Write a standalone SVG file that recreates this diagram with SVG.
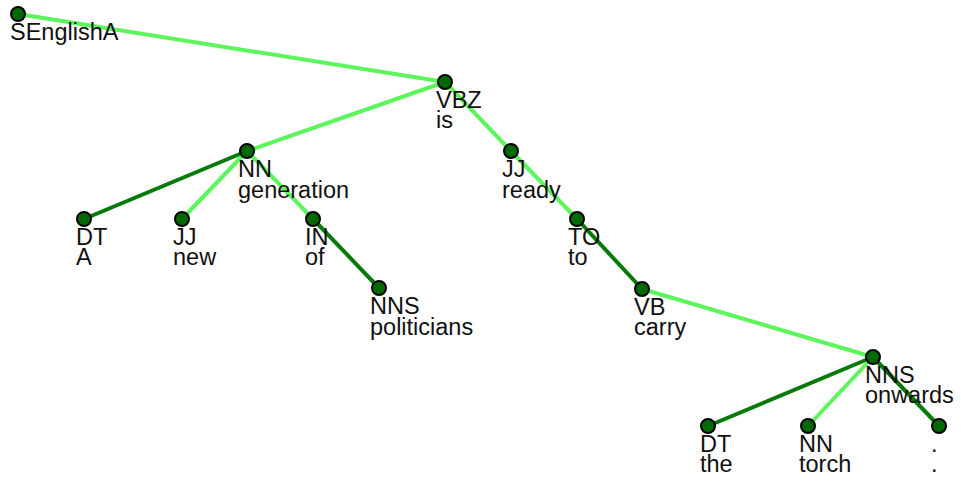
<svg xmlns="http://www.w3.org/2000/svg" width="961" height="484" viewBox="0 0 961 484">
  <style>
    .edge { fill: none; stroke-width: 4; stroke-linecap: butt; }
    .lite { stroke: #5cf55c; }
    .dark { stroke: #087a08; }
    .node circle { fill: #006a00; stroke: #000; stroke-width: 2; }
    .node text { font-family: "Liberation Sans", Arial, sans-serif; font-size: 23.5px; fill: #111; }
  </style>
  <rect width="961" height="484" fill="#fff"/>
  <g id="edges">
    <line class="edge lite" x1="18" y1="14" x2="445" y2="82"/>
    <line class="edge lite" x1="445" y1="82" x2="247" y2="151"/>
    <line class="edge dark" x1="247" y1="151" x2="84" y2="219"/>
    <line class="edge lite" x1="247" y1="151" x2="182" y2="219"/>
    <line class="edge lite" x1="247" y1="151" x2="313" y2="219"/>
    <line class="edge dark" x1="313" y1="219" x2="379" y2="288"/>
    <line class="edge lite" x1="445" y1="82" x2="511" y2="151"/>
    <line class="edge lite" x1="511" y1="151" x2="577" y2="219"/>
    <line class="edge dark" x1="577" y1="219" x2="642" y2="289"/>
    <line class="edge lite" x1="642" y1="289" x2="873" y2="357"/>
    <line class="edge dark" x1="873" y1="357" x2="708" y2="426"/>
    <line class="edge lite" x1="873" y1="357" x2="808" y2="426"/>
    <line class="edge dark" x1="873" y1="357" x2="939" y2="426"/>
  </g>
  <g id="n-s" class="node"><circle cx="18" cy="14" r="7"/><text x="10" y="40">SEnglishA</text></g>
  <g id="n-vbz" class="node"><circle cx="445" cy="82" r="7"/><text x="436" y="108">VBZ<tspan x="436" dy="20">is</tspan></text></g>
  <g id="n-nn-gen" class="node"><circle cx="247" cy="151" r="7"/><text x="238" y="177">NN<tspan x="238" dy="21">generation</tspan></text></g>
  <g id="n-dt-a" class="node"><circle cx="84" cy="219" r="7"/><text x="76" y="245">DT<tspan x="76" dy="20">A</tspan></text></g>
  <g id="n-jj-new" class="node"><circle cx="182" cy="219" r="7"/><text x="173" y="245">JJ<tspan x="173" dy="20">new</tspan></text></g>
  <g id="n-in-of" class="node"><circle cx="313" cy="219" r="7"/><text x="305" y="245">IN<tspan x="305" dy="20">of</tspan></text></g>
  <g id="n-nns-pol" class="node"><circle cx="379" cy="288" r="7"/><text x="370" y="314">NNS<tspan x="370" dy="21">politicians</tspan></text></g>
  <g id="n-jj-ready" class="node"><circle cx="511" cy="151" r="7"/><text x="502" y="177">JJ<tspan x="502" dy="21">ready</tspan></text></g>
  <g id="n-to" class="node"><circle cx="577" cy="219" r="7"/><text x="568" y="245">TO<tspan x="568" dy="20">to</tspan></text></g>
  <g id="n-vb" class="node"><circle cx="642" cy="289" r="7"/><text x="634" y="315">VB<tspan x="634" dy="20">carry</tspan></text></g>
  <g id="n-nns-onw" class="node"><circle cx="873" cy="357" r="7"/><text x="865" y="383">NNS<tspan x="865" dy="20">onwards</tspan></text></g>
  <g id="n-dt-the" class="node"><circle cx="708" cy="426" r="7"/><text x="700" y="452">DT<tspan x="700" dy="20">the</tspan></text></g>
  <g id="n-nn-torch" class="node"><circle cx="808" cy="426" r="7"/><text x="799" y="452">NN<tspan x="799" dy="20">torch</tspan></text></g>
  <g id="n-period" class="node"><circle cx="939" cy="426" r="7"/><text x="931" y="452">.<tspan x="931" dy="20">.</tspan></text></g>
</svg>
